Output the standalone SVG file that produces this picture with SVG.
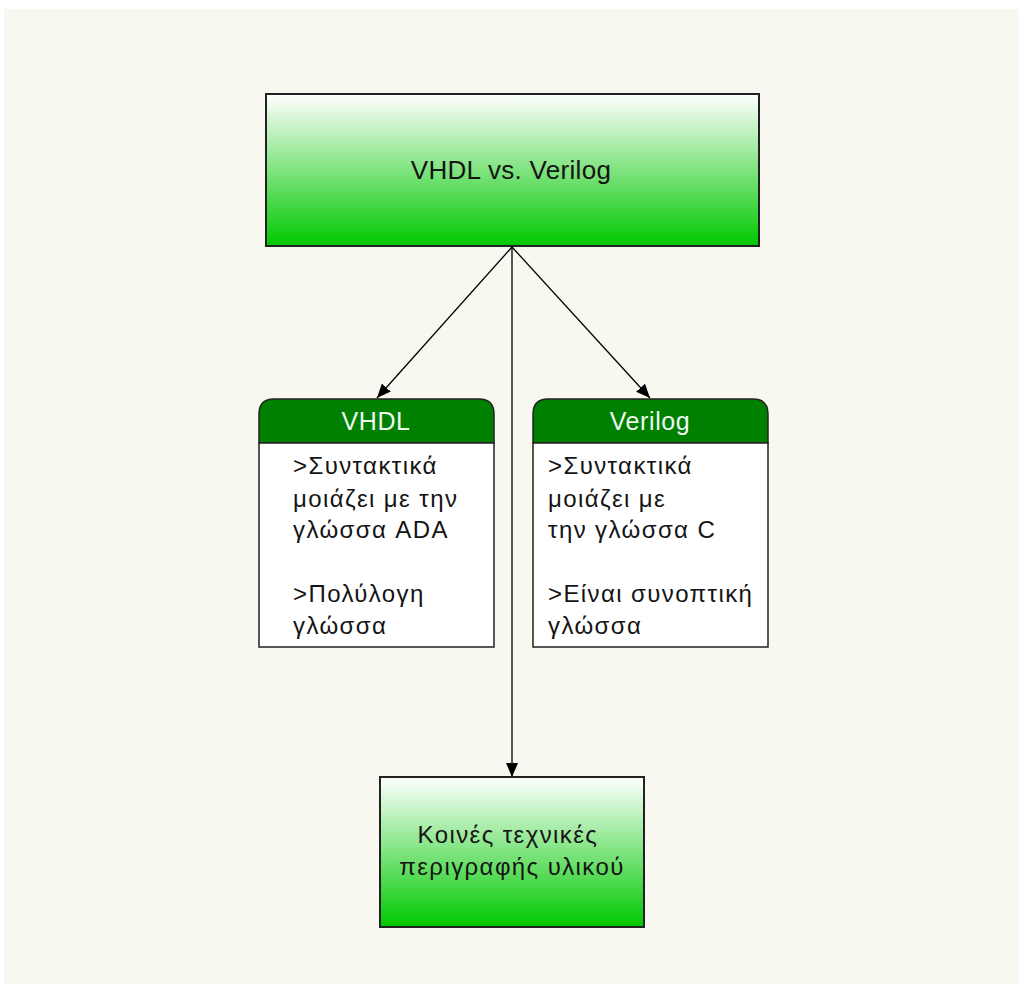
<svg xmlns="http://www.w3.org/2000/svg" width="1019" height="984" viewBox="0 0 1019 984">
  <style>
    .t { font-family: "Liberation Sans", Arial, sans-serif; fill: #141414; }
    .body { font-size: 24px; letter-spacing: 1.4px; }
    .box { stroke: #222; stroke-width: 2; }
    .hdr { font-family: "Liberation Sans", Arial, sans-serif; fill: #eef8f0; font-size: 25px; letter-spacing: 0.6px; text-anchor: middle; }
    .edge { stroke: #000; stroke-width: 1.3; fill: none; marker-end: url(#arrow); }
  </style>
  <defs>
    <linearGradient id="green" x1="0" y1="0" x2="0" y2="1">
      <stop offset="0" stop-color="#ffffff"/>
      <stop offset="1" stop-color="#00c800"/>
    </linearGradient>
    <marker id="arrow" viewBox="0 0 14 12" refX="14" refY="6" markerWidth="14" markerHeight="12" markerUnits="userSpaceOnUse" orient="auto">
      <path d="M0,0 L14,6 L0,12 Z" fill="#000"/>
    </marker>
  </defs>

  <rect x="0" y="0" width="1019" height="984" fill="#ffffff"/>
  <rect x="4" y="9" width="1015" height="975" fill="#f8f7f0"/>

  <g id="connectors">
    <line class="edge" x1="512" y1="247" x2="377" y2="398"/>
    <line class="edge" x1="512" y1="247" x2="650" y2="398"/>
    <line class="edge" x1="512" y1="247" x2="512" y2="777"/>
  </g>

  <g id="node-top">
    <rect class="box" x="266" y="94" width="493" height="152" fill="url(#green)"/>
    <text class="t" x="511" y="179" font-size="26" letter-spacing="0.3" text-anchor="middle">VHDL vs. Verilog</text>
  </g>

  <g id="node-vhdl">
    <path d="M259,443 V414 Q259,399 274,399 H479 Q494,399 494,414 V443 Z" fill="#008000" stroke="#222" stroke-width="1.5"/>
    <rect x="259" y="443" width="235" height="204" fill="#ffffff" stroke="#222" stroke-width="1.5"/>
    <text class="hdr" x="376" y="430">VHDL</text>
    <text class="t body">
      <tspan x="293" y="474">&gt;Συντακτικά</tspan>
      <tspan x="293" y="507">μοιάζει με την</tspan>
      <tspan x="293" y="538">γλώσσα ADA</tspan>
      <tspan x="293" y="602">&gt;Πολύλογη</tspan>
      <tspan x="293" y="634">γλώσσα</tspan>
    </text>
  </g>

  <g id="node-verilog">
    <path d="M533,443 V414 Q533,399 548,399 H753 Q768,399 768,414 V443 Z" fill="#008000" stroke="#222" stroke-width="1.5"/>
    <rect x="533" y="443" width="235" height="204" fill="#ffffff" stroke="#222" stroke-width="1.5"/>
    <text class="hdr" x="650" y="430">Verilog</text>
    <text class="t body">
      <tspan x="548" y="474">&gt;Συντακτικά</tspan>
      <tspan x="548" y="507">μοιάζει με</tspan>
      <tspan x="548" y="538">την γλώσσα C</tspan>
      <tspan x="548" y="602">&gt;Είναι συνοπτική</tspan>
      <tspan x="548" y="634">γλώσσα</tspan>
    </text>
  </g>

  <g id="node-common">
    <rect class="box" x="380" y="777" width="264" height="150" fill="url(#green)"/>
    <text class="t body" text-anchor="middle">
      <tspan x="512" y="843">Κοινές τεχνικές</tspan>
      <tspan x="512" y="875">περιγραφής υλικού</tspan>
    </text>
  </g>
</svg>
